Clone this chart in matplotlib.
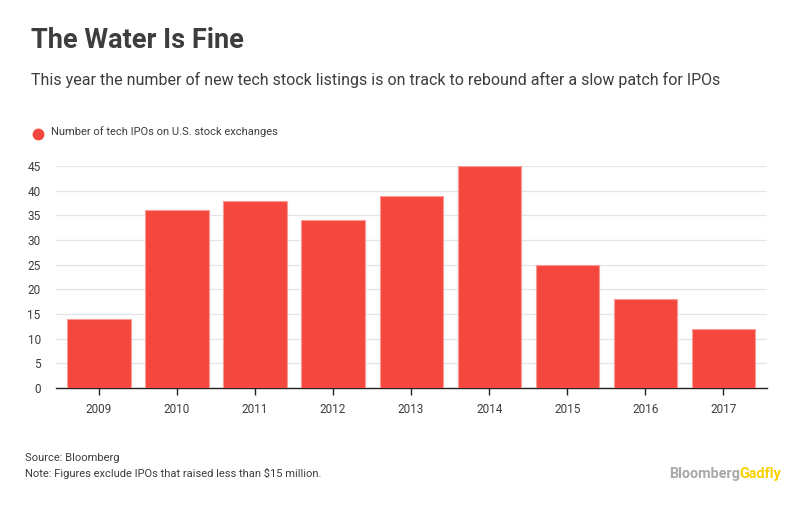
import matplotlib
matplotlib.use("Agg")
import matplotlib.pyplot as plt
import numpy as np

# ── Data ───────────────────────────────────────────────────────────────
years = ["2009", "2010", "2011", "2012", "2013", "2014", "2015", "2016", "2017"]
ipos = [14, 36, 38, 34, 39, 45, 25, 18, 12]
yticks = [0, 5, 10, 15, 20, 25, 30, 35, 40, 45]

RED = "#f4473e"
TEXT = "#3d3d3d"

plt.rcParams["font.family"] = ["Roboto", "DejaVu Sans"]

W, H = 812, 512
fig = plt.figure(figsize=(W / 100, H / 100), dpi=100)
ax = fig.add_axes([56 / W, 1 - 388 / H, (767 - 56) / W, (388 - 166) / H])

x = np.arange(len(years))
ax.bar(x, ipos, width=0.81, color=RED, edgecolor="#f99a95", linewidth=0.8, zorder=3)

ax.set_xlim(-0.55, len(years) - 0.44)
ax.set_ylim(0, 45)
ax.set_yticks(yticks)
ax.set_xticks(x)
ax.set_xticklabels(years)
ax.grid(axis="y", color="#e3e5ea", linewidth=0.9, zorder=0)
for s in ["top", "right", "left"]:
    ax.spines[s].set_visible(False)
ax.spines["bottom"].set_color("#222222")
ax.spines["bottom"].set_linewidth(1)
ax.tick_params(axis="y", length=0, pad=11, labelsize=8.5, labelcolor=TEXT)
ax.tick_params(axis="x", length=5, width=1, color="#222222", pad=6, labelsize=8.5, labelcolor=TEXT)

# ── Texts ──────────────────────────────────────────────────────────────
fig.text(31 / W, 1 - 41 / H, "The Water Is Fine", fontsize=19.5, fontweight="bold",
         color=TEXT, va="center", ha="left")
fig.text(31 / W, 1 - 80 / H,
         "This year the number of new tech stock listings is on track to rebound after a slow patch for IPOs",
         fontsize=11.5, color=TEXT, va="center", ha="left")
fig.lines.append(plt.Line2D([38 / W], [1 - 134 / H], marker="o", markersize=7.5,
                            color=RED, transform=fig.transFigure))
fig.text(51 / W, 1 - 132 / H, "Number of tech IPOs on U.S. stock exchanges",
         fontsize=8, color=TEXT, va="center", ha="left")
fig.text(25 / W, 1 - 458 / H, "Source: Bloomberg", fontsize=8, color=TEXT, va="center", ha="left")
fig.text(25 / W, 1 - 473 / H, "Note: Figures exclude IPOs that raised less than $15 million.",
         fontsize=8, color=TEXT, va="center", ha="left")

# logo: two colours side by side
t1 = fig.text(669 / W, 1 - 474 / H, "Bloomberg", fontsize=10.4, fontweight="bold",
              color="#a8a8a8", va="center", ha="left")
fig.canvas.draw()
bb = t1.get_window_extent(renderer=fig.canvas.get_renderer())
fig.text(bb.x1 / W, 1 - 474 / H, "Gadfly", fontsize=10.4, fontweight="bold",
         color="#f8d000", va="center", ha="left")

fig.savefig("out.png", dpi=100)
